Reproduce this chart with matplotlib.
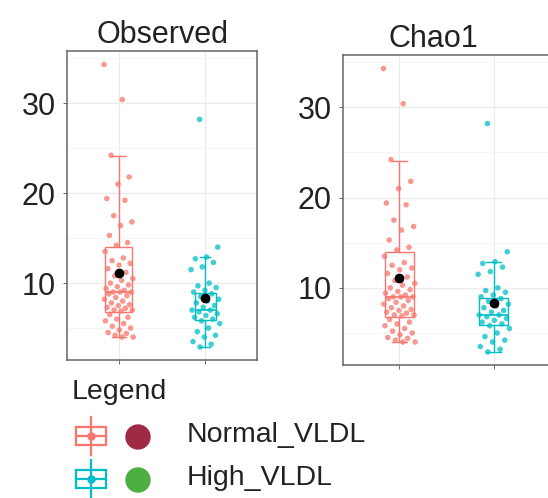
import numpy as np
import matplotlib
matplotlib.use("Agg")
import matplotlib.pyplot as plt
from matplotlib.patches import Rectangle, Circle

plt.rcParams['font.family'] = ['Liberation Sans', 'DejaVu Sans']

# data (Observed == Chao1 here)
groups = ['Normal_VLDL', 'High_VLDL']
colors = ['#F8766D', '#00BFC4']
legend_dots = ['#A02A45', '#4DAF3F']
metrics = ['Observed', 'Chao1']

normal_vals = [34.3, 30.4, 24.2, 21.8, 21.0, 19.4, 19.2, 17.5, 16.8, 16.4, 15.3, 14.5, 14.2,
               13.5, 12.8, 12.5, 12.2, 12.0, 11.6, 11.2, 10.8, 10.5, 10.3, 10.0, 9.8, 9.6,
               9.4, 9.2, 9.0, 9.0, 9.0, 8.8, 8.6, 8.4, 8.2, 8.0, 7.8, 7.6, 7.5, 7.3, 7.2,
               7.0, 7.0, 6.9, 6.5, 6.2, 6.0, 5.8, 5.5, 5.2, 5.0, 4.8, 4.5, 4.4, 4.2, 4.0, 4.0]
high_vals = [28.2, 14.0, 12.9, 12.7, 12.3, 11.8, 11.5, 10.0, 9.7, 9.5, 9.2, 9.0, 8.8, 8.5,
             8.2, 8.0, 7.8, 7.5, 7.3, 7.0, 7.0, 6.8, 6.6, 6.4, 6.2, 6.0, 5.8, 5.5, 5.0,
             4.6, 4.2, 4.0, 3.5, 3.2, 2.9]

# box statistics as drawn
q1 = [6.8, 5.9]
med = [9.0, 7.0]
q3 = [14.0, 8.9]
whislo = [4.0, 2.9]
whishi = [24.1, 12.9]
means = [11.1, 8.3]

yticks = [10, 20, 30]

W, H = 548, 498
fig = plt.figure(figsize=(W / 100, H / 100), dpi=100)

# axes rectangles in pixels: left, top, right, bottom
rects = [(67, 51, 257, 360), (343, 55, 550, 365)]
box_widths = [[0.31, 0.24], [0.30, 0.31]]
title_x = [0.5, 0.437]


def jitter(n, k):
    # deterministic spread of points around the category centre
    return ((np.arange(n) * 0.618 + 0.31 * k) % 1.0 - 0.5) * 0.34


for i, name in enumerate(metrics):
    l, t, r, b = rects[i]
    ax = fig.add_axes([l / W, 1 - b / H, (r - l) / W, (b - t) / H])

    stats = []
    for j in range(2):
        stats.append(dict(q1=q1[j], med=med[j], q3=q3[j], whislo=whislo[j],
                          whishi=whishi[j], mean=means[j], fliers=[]))
    bp = ax.bxp(stats, positions=[1, 2], widths=box_widths[i], showfliers=False,
                patch_artist=True, showmeans=False, manage_ticks=False)
    for j in range(2):
        bp['boxes'][j].set(facecolor='white', edgecolor=colors[j], linewidth=1.0)
        bp['medians'][j].set(color=colors[j], linewidth=1.2)
        for w in bp['whiskers'][2 * j:2 * j + 2]:
            w.set(color=colors[j], linewidth=1.0)
        for c in bp['caps'][2 * j:2 * j + 2]:
            c.set(color=colors[j], linewidth=1.0)

    for j, vals in enumerate([normal_vals, high_vals]):
        vals = np.array(vals)
        ax.scatter(j + 1 + jitter(len(vals), j), vals, s=16, color=colors[j],
                   alpha=0.75, edgecolors='none', zorder=3)
        ax.scatter([j + 1], [means[j]], s=36, color='black', marker='o', zorder=4)

    ax.set_xlim(0.4, 2.6)
    ax.set_ylim(1.45, 35.8)
    ax.set_yticks(yticks)
    ax.set_yticks([5, 15, 25, 35], minor=True)
    ax.set_xticks([1, 2])
    ax.set_xticklabels(['', ''])
    ax.grid(True, which='major', color='#ebebeb', linewidth=0.9)
    ax.grid(True, which='minor', axis='y', color='#f4f4f4', linewidth=0.6)
    ax.set_axisbelow(True)
    ax.tick_params(axis='both', which='major', length=3, width=0.6, color='#555555',
                   labelsize=22, labelcolor='#222222', pad=5)
    ax.tick_params(axis='y', which='minor', length=0)
    for s in ax.spines.values():
        s.set_color('#666666')
        s.set_linewidth(1.1)

    ax.set_title(name, fontsize=22, color='#222222', x=title_x[i], pad=6)

# legend drawn in pixel space
lg = fig.add_axes([0, 0, 1, 1], facecolor='none')
lg.set_xlim(0, W)
lg.set_ylim(H, 0)
lg.axis('off')
lg.text(72, 392, 'Legend', fontsize=20.5, color='#222222', va='center', ha='left')
for j, g in enumerate(groups):
    yc = 436 + j * 43
    lg.plot([91, 91], [yc - 19, yc + 19], color=colors[j], lw=1.6)
    lg.add_patch(Rectangle((76, yc - 9), 30, 18, facecolor='white',
                           edgecolor=colors[j], lw=1.6))
    lg.plot([76, 106], [yc, yc], color=colors[j], lw=1.6)
    lg.plot([91], [yc], 'o', color=colors[j], ms=5)
    lg.add_patch(Circle((138, yc + 1), 12, color=legend_dots[j]))
    lg.text(187, yc - 1, g, fontsize=20.5, color='#222222', va='center', ha='left')

fig.savefig('out.png', dpi=100)
